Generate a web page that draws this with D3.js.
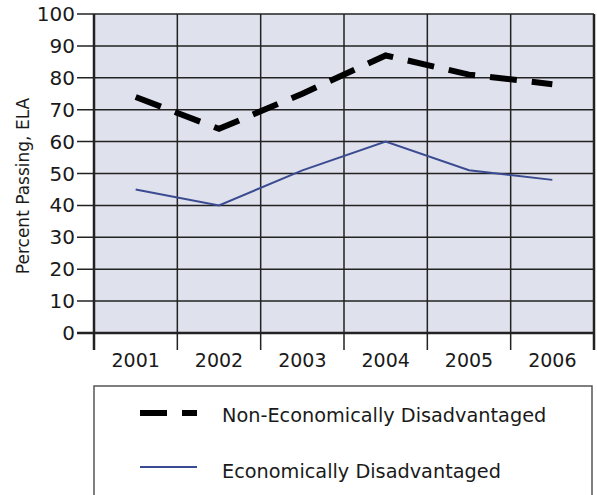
<!DOCTYPE html>
<html>
<head>
<meta charset="utf-8">
<script src="https://cdn.jsdelivr.net/npm/d3@7"></script>
<style>
  body { margin: 0; background: #fff; }
  text { font-family: "DejaVu Sans", sans-serif; fill: #1a1a1a; }
</style>
</head>
<body>
<script>
var years = ["2001", "2002", "2003", "2004", "2005", "2006"];
var nonEcon = [74, 64, 75, 87, 81, 78];
var econ = [45, 40, 51, 60, 51, 48];
var yTicks = [0, 10, 20, 30, 40, 50, 60, 70, 80, 90, 100];
var seriesNames = ["Non-Economically Disadvantaged", "Economically Disadvantaged"];

var W = 597, H = 495;
var plotL = 94, plotR = 594, plotT = 14, plotB = 333;

var svg = d3.select("body").append("svg")
    .attr("width", W)
    .attr("height", H);

var x = d3.scaleBand().domain(years).range([plotL, plotR]).padding(0);
var y = d3.scaleLinear().domain([0, 100]).range([plotB, plotT]);

// plot background
svg.append("rect")
    .attr("x", plotL).attr("y", plotT)
    .attr("width", plotR - plotL).attr("height", plotB - plotT)
    .attr("fill", "#dfe1ec");

// horizontal grid (extends left as tick marks)
svg.selectAll("line.hgrid")
    .data(yTicks)
    .enter().append("line")
    .attr("class", "hgrid")
    .attr("x1", plotL - 17).attr("x2", plotR)
    .attr("y1", function(d) { return y(d); })
    .attr("y2", function(d) { return y(d); })
    .attr("stroke", "#222")
    .attr("stroke-width", function(d) { return d == 0 ? 2.5 : 1.5; });

// vertical lines between years, extend down as ticks
var bounds = years.map(function(d) { return x(d); }).concat([plotR]);
svg.selectAll("line.vgrid")
    .data(bounds)
    .enter().append("line")
    .attr("class", "vgrid")
    .attr("x1", function(d) { return d; })
    .attr("x2", function(d) { return d; })
    .attr("y1", plotT)
    .attr("y2", 350)
    .attr("stroke", "#222")
    .attr("stroke-width", function(d, i) { return (i == 0 || i == bounds.length - 1) ? 2.5 : 1.5; });

// y labels
svg.selectAll("text.ylab")
    .data(yTicks)
    .enter().append("text")
    .attr("class", "ylab")
    .attr("x", 75)
    .attr("y", function(d) { return y(d) + 7; })
    .attr("text-anchor", "end")
    .attr("font-size", 20)
    .text(function(d) { return d; });

// x labels
svg.selectAll("text.xlab")
    .data(years)
    .enter().append("text")
    .attr("class", "xlab")
    .attr("x", function(d) { return x(d) + x.bandwidth() / 2; })
    .attr("y", 367)
    .attr("text-anchor", "middle")
    .attr("font-size", 19)
    .text(function(d) { return d; });

// y title
svg.append("text")
    .attr("transform", "translate(29,186) rotate(-90)")
    .attr("text-anchor", "middle")
    .attr("font-size", 17)
    .text("Percent Passing, ELA");

var line = d3.line()
    .x(function(d, i) { return x(years[i]) + x.bandwidth() / 2; })
    .y(function(d) { return y(d); });

svg.append("path")
    .datum(econ)
    .attr("d", line)
    .attr("fill", "none")
    .attr("stroke", "#3b4b92")
    .attr("stroke-width", 2);

svg.append("path")
    .datum(nonEcon)
    .attr("d", line)
    .attr("fill", "none")
    .attr("stroke", "#000")
    .attr("stroke-width", 6)
    .attr("stroke-dasharray", "27,15");

// legend
svg.append("rect")
    .attr("x", 94).attr("y", 386)
    .attr("width", 498).attr("height", 120)
    .attr("fill", "#fff")
    .attr("stroke", "#555")
    .attr("stroke-width", 1.5);

svg.append("line")
    .attr("x1", 140).attr("x2", 197)
    .attr("y1", 413).attr("y2", 413)
    .attr("stroke", "#000").attr("stroke-width", 6)
    .attr("stroke-dasharray", "27,15");

svg.append("line")
    .attr("x1", 140).attr("x2", 197)
    .attr("y1", 467).attr("y2", 467)
    .attr("stroke", "#3b4b92").attr("stroke-width", 2);

svg.selectAll("text.leg")
    .data(seriesNames)
    .enter().append("text")
    .attr("class", "leg")
    .attr("x", 222)
    .attr("y", function(d, i) { return 422 + i * 56; })
    .attr("font-size", 19.3)
    .text(function(d) { return d; });
</script>
</body>
</html>
